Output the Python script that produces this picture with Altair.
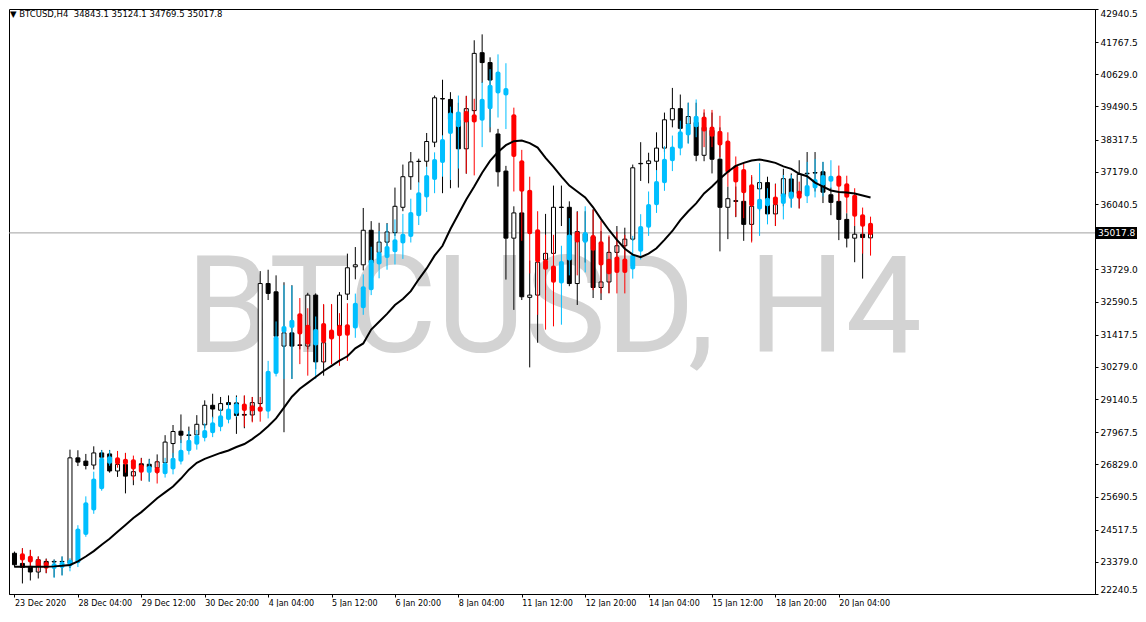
import json
import altair as alt
import pandas as pd

# ---------------- data ----------------
open_ = [23682, 23323, 23218, 23019, 23393, 23393, 23393, 23333, 27058, 26943,
         26803, 27232, 27197, 26594, 26824, 26419, 26848, 26831, 26709, 26883,
         27564, 28000, 27871, 27871, 28227, 28918, 28744, 29013, 29002, 28594,
         28576, 28978, 33226, 32933, 31013, 31480, 31055, 31013, 32817, 30454,
         31526, 31711, 32852, 33819, 33889, 35111, 34329, 34692, 35027, 35924,
         37006, 37554, 37554, 38228, 39771, 39740, 38996, 37994, 39345, 41394,
         41045, 38518, 37205, 34832, 35725, 32737, 32817, 34064, 34294, 35931,
         35924, 33226, 34737, 34877, 33086, 33282, 34329, 34563, 34797, 37477,
         37471, 37554, 38019, 39020, 39415, 38867, 38926, 37764, 38647, 37624,
         35924, 36158, 36134, 35320, 36577, 36797, 35690, 36308, 36926, 36413,
         37129, 37153, 37181, 36367, 36134, 35495, 34832, 34971, 34843.1]
high = [23742, 23857, 23801, 23567, 23497, 23462, 23567, 27348, 27327, 27197,
        27466, 27337, 27337, 27058, 27232, 26988, 27058, 27023, 27180, 27861,
        28220, 28594, 28164, 28569, 29093, 29327, 29212, 29267, 29267, 29257,
        29212, 33666, 33715, 33516, 33271, 33167, 31945, 32898, 32877, 32468,
        32468, 32922, 34284, 34517, 35900, 35435, 35376, 35366, 36622, 37436,
        37879, 37645, 38553, 39879, 40438, 39998, 39624, 39869, 41834, 42043,
        41230, 38699, 37390, 35959, 36657, 34039, 34737, 35690, 36692, 36692,
        36134, 35785, 35785, 35854, 35086, 34877, 35261, 35202, 37436, 38228,
        37855, 38577, 39275, 40148, 39914, 39624, 39624, 39275, 39275, 38752,
        36657, 36657, 37006, 37006, 37471, 37006, 36762, 37286, 37122, 37589,
        37879, 37879, 37530, 36622, 36483, 35715, 35261, 35435, 35124.1]
low = [23183, 22614, 22719, 22789, 22974, 22834, 22904, 23159, 26768, 26649,
       26649, 26709, 26534, 26384, 25801, 26091, 26255, 26220, 26499, 26709,
       27058, 27581, 27407, 27581, 28105, 28454, 28280, 28454, 27906, 28105,
       28349, 28803, 32643, 31072, 27965, 29850, 30898, 30898, 30199, 29966,
       30374, 31247, 32643, 33376, 33690, 33690, 34039, 34388, 34912, 35785,
       36542, 36797, 37355, 38053, 36423, 36598, 36622, 37111, 39205, 40322,
       38577, 36657, 33366, 32294, 32643, 30259, 31131, 32992, 33865, 35261,
       33132, 32468, 33969, 32713, 32643, 32887, 33969, 33969, 34737, 36856,
       36772, 36832, 37879, 38752, 38577, 38193, 37554, 37554, 37122, 34364,
       34797, 35575, 34737, 34737, 35785, 35505, 35261, 35959, 35924, 35889,
       36483, 36483, 36074, 35645, 34762, 34503, 33980, 33400, 34769.5]
close = [23277, 23183, 23019, 23452, 23288, 23375, 23375, 27058, 26908, 26789,
         27232, 27082, 26594, 26824, 26412, 26569, 26761, 26726, 26918, 27616,
         27990, 27861, 27850, 28245, 28918, 28786, 28978, 28943, 28559, 28569,
         29013, 33226, 32877, 31362, 31480, 31013, 31037, 32817, 30454, 31131,
         31316, 32817, 33784, 33889, 35111, 33969, 34692, 35052, 35959, 37006,
         37530, 37544, 38252, 39799, 39757, 39041, 37994, 39415, 41370, 41045,
         40427, 37181, 34832, 35725, 32758, 32817, 33980, 34294, 35924, 35917,
         33226, 35062, 34982, 33086, 33282, 34329, 34563, 34797, 37321, 37464,
         37565, 38019, 39020, 39415, 38717, 39136, 37764, 38752, 37624, 35924,
         36228, 36134, 35320, 35959, 36797, 35690, 36018, 36937, 36308, 37087,
         37111, 37135, 36458, 36099, 35495, 34832, 34971, 34853, 35017.8]

# coloured (Heiken Ashi style) candles: open, close, high, low
ha_open = [None, 23682, 23591, 23473, 23375, 23124, 23159, 23218, 23333, 24325,
           25197, 25951, 26848, 27082, 27023, 27005, 26824, 26523, 26733, 26475,
           26649, 26918, 27292, 27522, 27756, 27931, 28140, 28395, 28611, 28978,
           28918, 28873, 28688, 30025, 31491, 31655, 32179, 31770, 31037, 31830,
           31596, 31770, 31788, 31631, 32353, 32992, 33900, 34133, 34329, 34643,
           34877, 35610, 36273, 36891, 37495, 38518, 38752, 39335, 39216, 38986,
           39390, 39949, 39879, 39216, 37589, 36542, 35146, 34081, 33865, 33226,
           34039, 35062, 34668, 34947, 34720, 34099, 34179, 34109, 33725, 34353,
           35202, 35994, 36772, 37554, 37994, 38462, 38752, 39136, 38787, 38636,
           38287, 37415, 37275, 36737, 35844, 35959, 36308, 36039, 36221, 36507,
           36308, 36587, 36699, 36832, 37052, 36772, 36367, 35680, 35376]
ha_close = [None, 23428, 23358, 23201, 23131, 23333, 23382, 23452, 24555, 25487,
            26325, 27058, 27117, 26824, 26824, 26649, 26534, 26768, 26517, 26883,
            27058, 27348, 27697, 27871, 28046, 28314, 28569, 28803, 28988, 28716,
            28709, 28688, 30140, 31362, 31725, 31945, 31421, 31072, 31620, 31131,
            31247, 31362, 31376, 32549, 33132, 34064, 34343, 34552, 34797, 34992,
            35760, 36458, 37066, 37634, 38343, 39275, 39317, 38926, 38926, 39764,
            40263, 40731, 40148, 37704, 36472, 34971, 33980, 33715, 33254, 34022,
            34957, 34678, 35052, 34388, 33865, 33551, 33596, 33596, 34249, 35261,
            36039, 36856, 37645, 38078, 38619, 38891, 39160, 38602, 38420, 38113,
            37146, 36797, 36423, 35959, 36228, 36263, 36004, 36423, 36483, 36228,
            36717, 36926, 37066, 37041, 36647, 36263, 35593, 35233, 34947]
ha_high = [None, 23857, 23801, 23567, 23473, 23452, 23567, 23508, 24674, 25696,
           26569, 27327, 27327, 27302, 27232, 27138, 27040, 26998, 26953, 27058,
           27232, 27697, 28011, 28046, 28280, 28513, 28803, 29013, 29212, 29267,
           29212, 29212, 30489, 31885, 33167, 33149, 32713, 32353, 32060, 32503,
           32503, 32179, 32528, 32870, 33551, 34528, 35086, 35338, 35495, 35690,
           36228, 36807, 37355, 37868, 38472, 39485, 39879, 39858, 39764, 40347,
           40811, 41335, 41021, 39450, 37956, 37006, 35785, 34957, 34947, 34563,
           35540, 35760, 35959, 35844, 35453, 34929, 35062, 34947, 34912, 35680,
           36483, 37240, 38088, 38462, 38986, 39624, 39740, 39390, 39369, 39160,
           38577, 37722, 37505, 37066, 37471, 36598, 36745, 37066, 37066, 36832,
           37530, 37634, 37530, 37589, 37401, 37041, 36598, 35914, 35593]
ha_low = [None, 23159, 23159, 23044, 22984, 22810, 22893, 23044, 23194, 24265,
          25079, 25895, 26779, 26709, 26534, 26265, 26255, 26220, 26150, 26360,
          26475, 26824, 27173, 27348, 27641, 27791, 28000, 28280, 28513, 28157,
          28314, 28339, 28454, 29938, 29850, 29850, 30374, 29966, 29850, 30433,
          30374, 30315, 30489, 31306, 32119, 32817, 33411, 33715, 33900, 34099,
          34678, 35296, 35760, 36423, 37006, 36891, 37296, 37122, 37052, 38053,
          38752, 39101, 38692, 36483, 34737, 33585, 32119, 31596, 31711, 31770,
          33516, 33516, 33620, 32992, 32877, 32877, 32877, 32877, 33400, 34074,
          34912, 35725, 36507, 37205, 37764, 38169, 38403, 38053, 38053, 37704,
          36657, 35593, 35540, 34678, 34912, 35320, 35261, 35495, 35900, 35879,
          36074, 36273, 36308, 36598, 36134, 35725, 35261, 34284, 34214]

# moving average line
ma = [23201, 23201, 23201, 23201, 23208, 23218, 23236, 23270, 23393, 23567,
      23759, 23986, 24195, 24440, 24684, 24928, 25138, 25382, 25627, 25836,
      26045, 26325, 26639, 26883, 27023, 27128, 27232, 27320, 27442, 27547,
      27721, 27931, 28175, 28454, 28838, 29222, 29501, 29711, 29920, 30130,
      30315, 30496, 30653, 30932, 31107, 31596, 31875, 32154, 32468, 32678,
      32957, 33376, 33760, 34214, 34563, 35156, 35680, 36203, 36657, 37146,
      37565, 37879, 38123, 38263, 38287, 38193, 38036, 37670, 37355, 37006,
      36692, 36483, 36273, 35924, 35505, 35121, 34772, 34458, 34249, 34161,
      34284, 34476, 34772, 35086, 35470, 35785, 36064, 36413, 36657, 36937,
      37181, 37390, 37495, 37582, 37617, 37565, 37495, 37373, 37286, 37111,
      37024, 36797, 36657, 36518, 36465, 36448, 36413, 36343, 36273]

x_tick_idx = [0, 8, 16, 24, 32, 40, 48, 56, 64, 72, 80, 88, 96, 104]
x_tick_labels = ["23 Dec 2020", "28 Dec 04:00", "29 Dec 12:00", "30 Dec 20:00",
                 "4 Jan 04:00", "5 Jan 12:00", "6 Jan 20:00", "8 Jan 04:00",
                 "11 Jan 12:00", "12 Jan 20:00", "14 Jan 04:00", "15 Jan 12:00",
                 "18 Jan 20:00", "20 Jan 04:00"]
y_tick_values = [22240.5, 23379.0, 24517.5, 25690.5, 26829.0, 27967.5, 29140.5,
                 30279.0, 31417.5, 32590.5, 33729.0, 34867.5, 36040.5, 37179.0,
                 38317.5, 39490.5, 40629.0, 41767.5, 42940.5]
hidden_y_label = 34867.5          # covered by the price box in the reference
last_price = [35017.8]
last_price_label = ["35017.8"]
header_text = ["\u25BC BTCUSD,H4\u00a0\u00a034843.1 35124.1 34769.5 35017.8"]
watermark_text = ["BTCUSD, H4"]

# ---------------- chart ----------------
W, H = 1086, 585
X_DOM = [-0.0625, -0.0625 + W / 8.0]
Y_DOM = [22240.5, 42940.5]
CYAN, RED = "#00BFFF", "#FF0000"
FONT = "DejaVu Sans"

df = pd.DataFrame({"i": list(range(len(open_))), "o": open_, "h": high, "l": low,
                   "c": close, "ho": ha_open, "hc": ha_close, "hh": ha_high,
                   "hl": ha_low, "ma": ma})

xs = alt.Scale(domain=X_DOM, nice=False, zero=False)
ys = alt.Scale(domain=Y_DOM, nice=False, zero=False)

x_label_expr = (json.dumps(x_tick_labels) + "[indexof(" + json.dumps(x_tick_idx)
                + ", datum.value)]")
y_label_expr = f"datum.value == {hidden_y_label} ? '' : datum.label"
x_axis = alt.Axis(values=x_tick_idx, labelExpr=x_label_expr, title=None, grid=False,
                  labelAlign="left", labelPadding=2, tickSize=3,
                  labelFlush=False, labelOverlap=False, labelFont=FONT,
                  labelFontSize=8, labelColor="black", tickColor="black",
                  domainColor="black")
y_axis = alt.Axis(orient="right", values=y_tick_values, format=".1f",
                  labelExpr=y_label_expr, title=None,
                  grid=False, tickSize=3, labelPadding=2, labelAlign="left",
                  labelFlush=True, labelOverlap=False, labelFont=FONT,
                  labelFontSize=9, labelColor="black", tickColor="black",
                  domainColor="black")


def X():
    return alt.X("i:Q", scale=xs, axis=x_axis)


def Y(field):
    return alt.Y(f"{field}:Q", scale=ys, axis=y_axis)


base = alt.Chart(df)

watermark = alt.Chart(pd.DataFrame({"t": watermark_text})).mark_text(
    font="Roboto", fontSize=136, color="#D3D3D3", align="center",
    baseline="alphabetic").encode(text="t:N", x=alt.value(545), y=alt.value(343))

price_line = alt.Chart(pd.DataFrame({"p": last_price})).mark_rule(
    color="#A0A0A0", strokeWidth=1).encode(y=Y("p"))

wicks = base.mark_rule(color="black", strokeWidth=1, clip=True).encode(
    x=X(), y=Y("l"), y2="h:Q")

bodies = base.mark_bar(width=4, stroke="black", strokeWidth=1, clip=True).encode(
    x=X(), y=Y("o"), y2="c:Q",
    fill=alt.condition("datum.c >= datum.o", alt.value("white"), alt.value("black")))

ha = base.transform_filter("isValid(datum.ho)")
ha_col = alt.condition("datum.hc >= datum.ho", alt.value(CYAN), alt.value(RED))
ha_wicks = ha.mark_rule(strokeWidth=1, clip=True).encode(
    x=X(), y=Y("hl"), y2="hh:Q", color=ha_col)
ha_bodies = ha.mark_bar(width=5, cornerRadius=2, clip=True).encode(
    x=X(), y=Y("ho"), y2="hc:Q", color=ha_col)

ma_line = base.mark_line(color="black", strokeWidth=2, clip=True).encode(
    x=X(), y=Y("ma"))

price_df = pd.DataFrame({"p": last_price, "t": last_price_label})
price_box = alt.Chart(price_df).mark_tick(
    orient="horizontal", thickness=12, size=41, color="black", opacity=1).encode(
    y=Y("p"), x=alt.value(W + 21.5))
price_txt = alt.Chart(price_df).mark_text(
    align="left", baseline="middle", color="white", font=FONT, fontSize=9).encode(
    y=Y("p"), x=alt.value(W + 3), text="t:N")

header = alt.Chart(pd.DataFrame({"t": header_text})).mark_text(
    align="left", baseline="top", color="black", font=FONT, fontSize=8.5).encode(
    text="t:N", x=alt.value(1), y=alt.value(1))

chart = alt.layer(
    watermark, price_line, wicks, bodies, ha_wicks, ha_bodies, ma_line,
    price_box, price_txt, header
).properties(
    width=W, height=H, padding=0, background="white"
).configure_view(
    stroke="black", strokeWidth=1
)

chart.save("out.html", embed_options={"renderer": "svg", "actions": False})
